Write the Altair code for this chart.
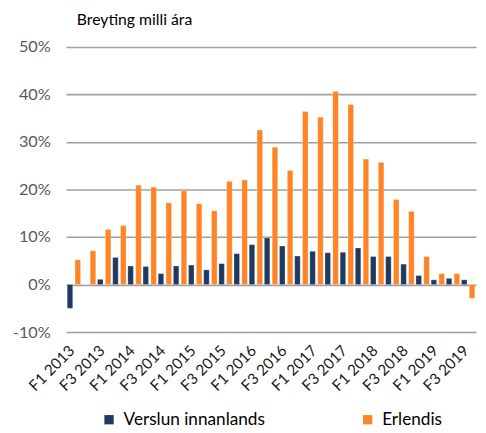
import altair as alt
import pandas as pd

quarters = [f"F{q} {y}" for y in range(2013, 2020) for q in range(1, 5)][:27]
domestic = [-5.0, 0.0, 1.1, 5.7, 3.9, 3.8, 2.3, 3.9, 4.1, 3.1, 4.4, 6.5, 8.4,
            9.8, 8.1, 6.0, 7.0, 6.7, 6.8, 7.7, 5.9, 5.9, 4.3, 1.9, 1.0, 1.3, 1.0]
foreign = [5.2, 7.1, 11.6, 12.4, 20.9, 20.5, 17.2, 19.7, 17.0, 15.5, 21.7, 22.0, 32.5,
           28.9, 24.0, 36.4, 35.2, 40.6, 37.9, 26.4, 25.7, 17.9, 15.4, 5.9, 2.3, 2.3, -2.9]
series = ["Verslun innanlands", "Erlendis"]
colors = ["#1F3A5F", "#FF8426"]
tick_labels = [q for q in quarters if q.startswith("F1") or q.startswith("F3")]

rows = []
for i, q in enumerate(quarters):
    rows.append({"q": q, "s": series[0], "v": domestic[i]})
    rows.append({"q": q, "s": series[1], "v": foreign[i]})
df = pd.DataFrame(rows)

FONT = "Lato"

chart = alt.Chart(df).mark_bar(stroke="white", strokeWidth=0.4, strokeOpacity=0.6).encode(
    x=alt.X("q:N", sort=quarters, title=None,
            scale=alt.Scale(paddingInner=0.12, paddingOuter=0.08),
            axis=alt.Axis(values=tick_labels, labelAngle=-45, labelAlign="right",
                          labelBaseline="middle", ticks=False, domain=False,
                          labelFontSize=15.5, labelColor="#1a1a1a", labelFont=FONT,
                          labelPadding=16, labelOverlap=False, labelOffset=-2)),
    xOffset=alt.XOffset("s:N", sort=series, scale=alt.Scale(paddingInner=0.3)),
    y=alt.Y("v:Q", title=None,
            scale=alt.Scale(domain=[-10, 50], nice=False),
            axis=alt.Axis(values=[-10, 0, 10, 20, 30, 40, 50], labelExpr="datum.value + '%'",
                          ticks=False, domain=False, gridColor="#A0A0A0", gridWidth=1.6,
                          labelFontSize=16.5, labelColor="#595959", labelFont=FONT,
                          labelPadding=16)),
    color=alt.Color("s:N", sort=series, scale=alt.Scale(domain=series, range=colors),
                    legend=alt.Legend(title=None, orient="none", direction="horizontal",
                                      legendX=35, legendY=370, symbolType="square",
                                      symbolSize=90, symbolStrokeWidth=0,
                                      labelFontSize=17.5, labelFont=FONT, labelColor="#000000",
                                      columnPadding=95, labelOffset=6)),
).properties(
    width=417, height=290,
    title=alt.TitleParams("Breyting milli ára", anchor="start", frame="group", dx=11,
                          fontSize=16, font=FONT, fontWeight="normal", color="#000000",
                          offset=11),
    autosize=alt.AutoSizeParams(type="none"),
    padding={"left": 59, "top": 36, "right": 2, "bottom": 98},
).configure_view(stroke=None)

chart.save("out.html", embed_options={"renderer": "svg", "actions": False})
